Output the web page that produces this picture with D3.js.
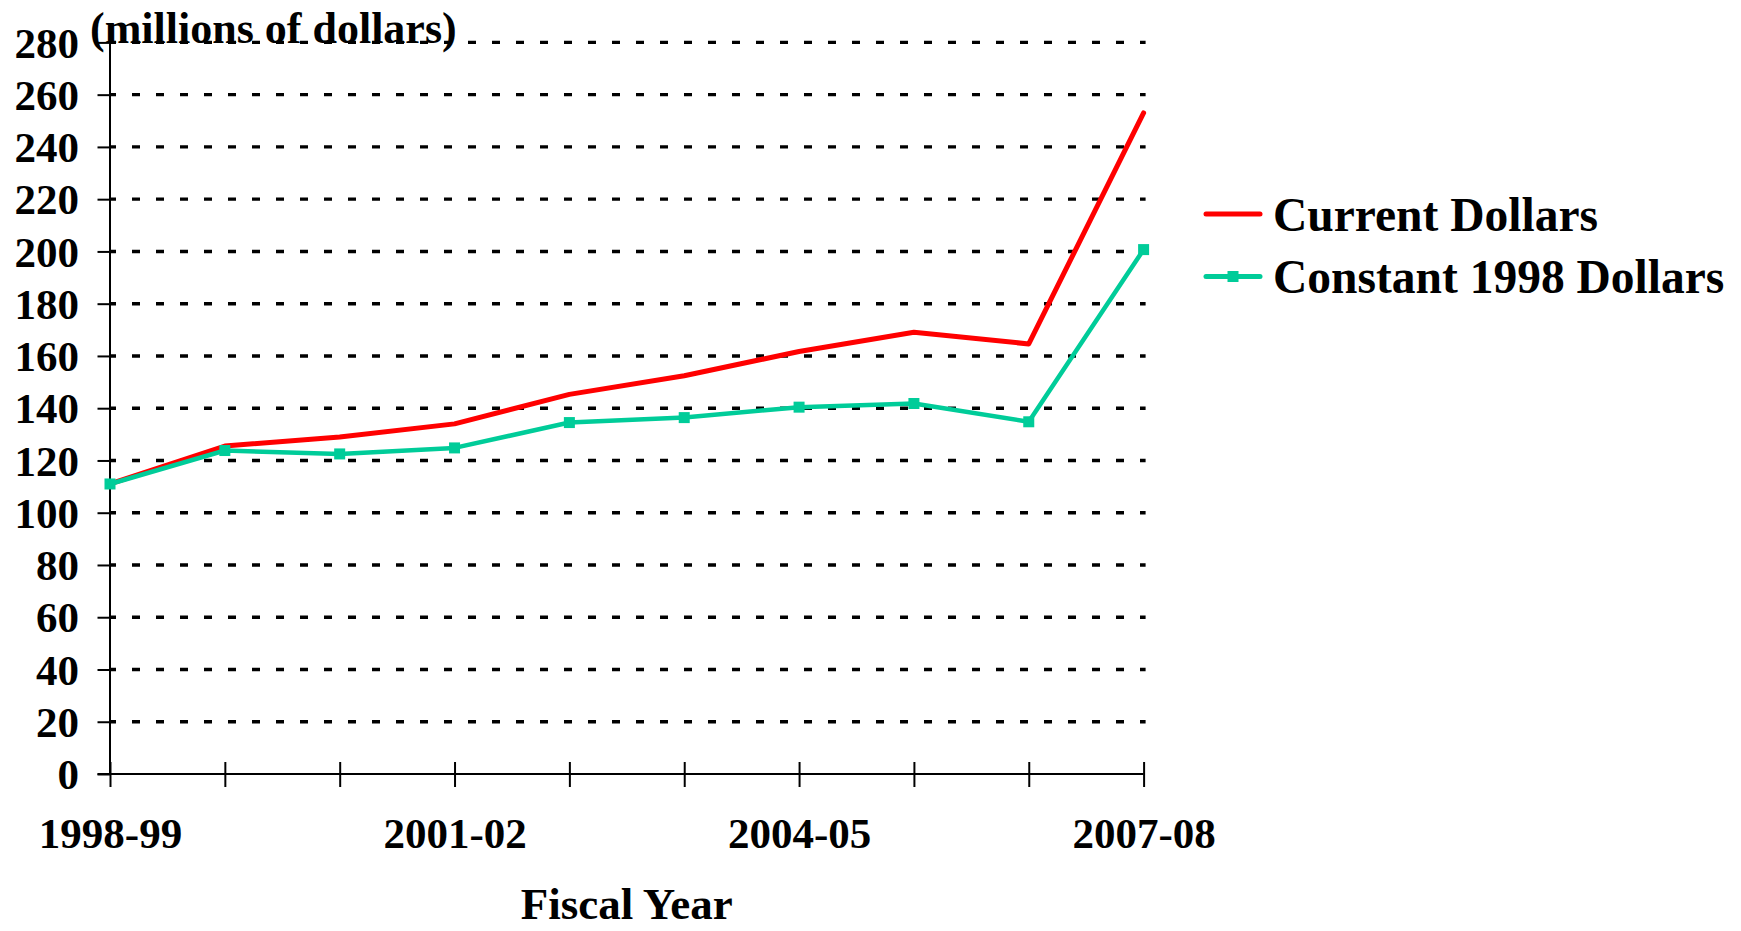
<!DOCTYPE html>
<html>
<head>
<meta charset="utf-8">
<script src="https://cdn.jsdelivr.net/npm/d3@7"></script>
<style>
  html, body { margin: 0; padding: 0; background: #ffffff; }
  svg { display: block; }
  text { font-family: "Liberation Serif", "Times New Roman", serif; font-weight: bold; fill: #000; }
</style>
</head>
<body>
<svg id="chart" width="1741" height="931"></svg>
<script>
// ---- data ----
const categories = ["1998-99","1999-00","2000-01","2001-02","2002-03","2003-04","2004-05","2005-06","2006-07","2007-08"];
const shownXLabels = ["1998-99","2001-02","2004-05","2007-08"];
const currentDollars = [111, 125.5, 129, 134, 145.3, 152.4, 161.7, 169.1, 164.6, 253];
const constantDollars = [111, 123.8, 122.5, 124.8, 134.5, 136.4, 140.4, 141.8, 134.8, 200.7];
const yTicks = [0,20,40,60,80,100,120,140,160,180,200,220,240,260,280];
const seriesNames = ["Current Dollars", "Constant 1998 Dollars"];
const unitLabel = "(millions of dollars)";
const xTitle = "Fiscal Year";

// ---- layout ----
const svg = d3.select("#chart");
const L = 110, R = 1143.6, T = 42.4, B = 774;
const RED = "#ff0000", GREEN = "#00cc99";

const x = d3.scalePoint().domain(categories).range([L, R]);
const y = d3.scaleLinear().domain([0, 280]).range([B, T]);

// gridlines (dotted)
svg.append("g").selectAll("line")
  .data(yTicks.filter(d => d > 0))
  .join("line")
  .attr("x1", L).attr("x2", R + 2)
  .attr("y1", d => y(d)).attr("y2", d => y(d))
  .attr("stroke", "#000").attr("stroke-width", 3.4)
  .attr("stroke-dasharray", "8,16").attr("stroke-dashoffset", 2);

// y axis
const yAxis = svg.append("g").attr("transform", `translate(${L},0)`)
  .call(d3.axisLeft(y).tickValues(yTicks).tickSize(12.5).tickPadding(18.5).tickFormat(d3.format("d")));
yAxis.select(".domain").attr("stroke", "#000").attr("stroke-width", 2).attr("d", `M0,${T}V${B}`);
yAxis.selectAll(".tick line").attr("stroke", "#000").attr("stroke-width", 2);
yAxis.selectAll(".tick text").style("font-size", "43px").attr("dy", "0.34em");

// x axis
const xAxis = svg.append("g").attr("transform", `translate(0,${B})`)
  .call(d3.axisBottom(x).tickSize(0).tickFormat(d => shownXLabels.includes(d) ? d : ""));
xAxis.select(".domain").attr("stroke", "#000").attr("stroke-width", 2).attr("d", `M${L - 12.5},0H${R}`);
xAxis.selectAll(".tick line").attr("stroke", "#000").attr("stroke-width", 2).attr("y1", -12).attr("y2", 13);
xAxis.selectAll(".tick text").style("font-size", "43px").attr("y", 74).attr("dy", 0);

// lines
const line = d3.line().x((d, i) => x(categories[i])).y(d => y(d));
svg.append("path").datum(currentDollars)
  .attr("d", line).attr("fill", "none").attr("stroke", RED)
  .attr("stroke-width", 5).attr("stroke-linejoin", "round").attr("stroke-linecap", "round");
svg.append("path").datum(constantDollars)
  .attr("d", line).attr("fill", "none").attr("stroke", GREEN)
  .attr("stroke-width", 4.5).attr("stroke-linejoin", "round").attr("stroke-linecap", "round");
const MS = 11;
svg.append("g").selectAll("rect").data(constantDollars).join("rect")
  .attr("x", (d, i) => x(categories[i]) - MS / 2).attr("y", d => y(d) - MS / 2)
  .attr("width", MS).attr("height", MS).attr("fill", GREEN);

// unit label
svg.append("text").attr("x", 90).attr("y", 43).style("font-size", "44px").text(unitLabel);

// x title
svg.append("text").attr("x", (L + R) / 2).attr("y", 919).attr("text-anchor", "middle")
  .style("font-size", "45px").text(xTitle);

// legend
const legend = svg.append("g");
const legY = [214, 276.5];
const legColors = [RED, GREEN];
seriesNames.forEach((name, i) => {
  legend.append("line").attr("x1", 1206).attr("x2", 1260).attr("y1", legY[i]).attr("y2", legY[i])
    .attr("stroke", legColors[i]).attr("stroke-width", 5).attr("stroke-linecap", "round");
  if (i === 1) {
    legend.append("rect").attr("x", 1233 - MS / 2).attr("y", legY[i] - MS / 2)
      .attr("width", MS).attr("height", MS).attr("fill", GREEN);
  }
  legend.append("text").attr("x", 1273).attr("y", legY[i]).attr("dy", "0.35em")
    .style("font-size", "47.5px").text(name);
});
</script>
</body>
</html>
